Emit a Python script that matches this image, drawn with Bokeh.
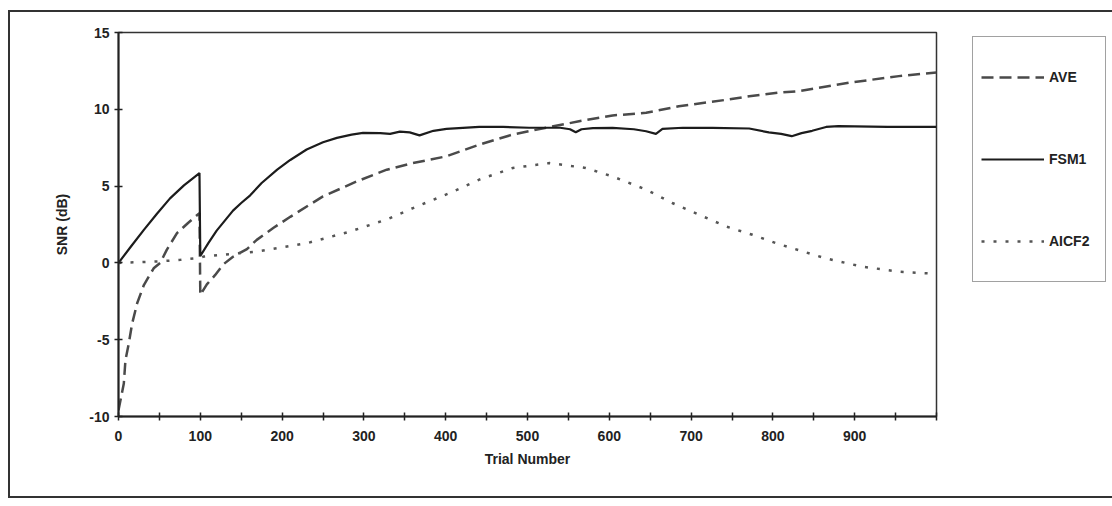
from bokeh.plotting import figure
from bokeh.layouts import row
from bokeh.models import Legend, LegendItem, FixedTicker, Range1d
from bokeh.embed import file_html
from bokeh.resources import INLINE

# SNR (dB) against trial number for the three estimators
ave_trial = [0, 6.5, 8.5, 12.6, 16.7, 22.8, 31, 43, 51, 59, 71.5, 85, 99,
             100, 108, 118, 128, 140, 157, 169, 190, 210, 250, 291, 328, 360,
             401, 441, 482, 523, 563, 604, 645, 685, 746, 771, 807, 832, 893,
             954, 1000]
ave_snr = [-9.6, -7.85, -6.33, -5.24, -3.94, -2.63, -1.44, -0.35, 0.0, 0.85,
           1.94, 2.6, 3.24,
           -2.09, -1.4, -0.8, -0.1, 0.4, 0.9, 1.5, 2.3, 3.0, 4.33, 5.3, 6.07,
           6.5, 6.94, 7.7, 8.36, 8.8, 9.22, 9.6, 9.77, 10.2, 10.64, 10.85,
           11.08, 11.18, 11.73, 12.16, 12.4]

fsm1_trial = [0, 15, 31, 47, 63, 80, 99,
              100, 110, 120, 130, 140, 150, 161, 175, 194, 210, 230, 250, 267,
              285, 299, 320, 332, 344, 356, 368, 385, 401, 441, 470, 502, 540,
              552, 559, 566, 580, 604, 630, 645, 657, 665, 690, 726, 771, 795,
              810, 823, 835, 848, 865, 880, 940, 1000]
fsm1_snr = [0, 1.05, 2.15, 3.2, 4.2, 5.05, 5.85,
            0.45, 1.3, 2.1, 2.75, 3.4, 3.9, 4.4, 5.2, 6.07, 6.7, 7.38, 7.85,
            8.14, 8.35, 8.47, 8.45, 8.4, 8.55, 8.5, 8.3, 8.6, 8.72, 8.86,
            8.85, 8.8, 8.8, 8.7, 8.5, 8.7, 8.78, 8.79, 8.7, 8.57, 8.4, 8.72,
            8.8, 8.79, 8.75, 8.5, 8.4, 8.25, 8.45, 8.6, 8.85, 8.9, 8.86, 8.86]

aicf2_trial = [0, 50, 76, 100, 104, 169, 230, 283, 329, 360, 405, 441, 482,
               527, 571, 604, 645, 677, 710, 743, 775, 804, 864, 909, 954,
               984, 1000]
aicf2_snr = [0, 0.1, 0.2, 0.33, 0.41, 0.74, 1.28, 2.04, 2.85, 3.57, 4.55,
             5.42, 6.18, 6.5, 6.18, 5.63, 4.77, 3.9, 3.13, 2.37, 1.83, 1.28,
             0.3, -0.24, -0.57, -0.67, -0.7]

series_names = ["AVE", "FSM1", "AICF2"]
series_x = [ave_trial, fsm1_trial, aicf2_trial]
series_y = [ave_snr, fsm1_snr, aicf2_snr]

x_ticks = list(range(0, 1001, 50))
x_tick_labels = {t: (str(t) if t % 100 == 0 and t < 1000 else "") for t in x_ticks}
y_ticks = [-10, -5, 0, 5, 10, 15]
y_tick_labels = {t: str(t) for t in y_ticks}

FONT = "Liberation Sans"
INK = "#222222"
RULE = "linear-gradient(#333333, #333333)"

# line styles shared by the chart and its key
styles = [
    dict(line_color="#4a4a4a", line_width=2.5, line_dash="12 6"),
    dict(line_color="#1c1c1c", line_width=2.2),
    dict(line_color="#555555", line_width=2.5, line_dash="3 9"),
]

p = figure(width=960, height=506, output_backend="svg", toolbar_location=None,
           x_range=Range1d(0, 1000), y_range=Range1d(-10, 15),
           min_border_left=118, min_border_right=24,
           min_border_top=32, min_border_bottom=90)
p.border_fill_color = None
p.background_fill_color = "white"
p.outline_line_color = "#333333"
p.outline_line_width = 1.5
p.xgrid.visible = False
p.ygrid.visible = False

for ax in (p.xaxis[0], p.yaxis[0]):
    ax.axis_line_color = INK
    ax.axis_line_width = 2
    ax.major_tick_line_color = INK
    ax.major_tick_line_width = 1.5
    ax.major_tick_in = 4
    ax.major_tick_out = 4
    ax.minor_tick_line_color = None
    ax.major_label_text_font = FONT
    ax.major_label_text_font_style = "bold"
    ax.major_label_text_font_size = "14px"
    ax.major_label_text_color = INK
    ax.axis_label_text_font = FONT
    ax.axis_label_text_font_style = "bold"
    ax.axis_label_text_font_size = "14px"
    ax.axis_label_text_color = INK

p.xaxis.ticker = FixedTicker(ticks=x_ticks)
p.xaxis.major_label_overrides = x_tick_labels
p.xaxis.major_label_standoff = 10
p.xaxis.axis_label = "Trial Number"
p.xaxis.axis_label_standoff = 7

p.yaxis.ticker = FixedTicker(ticks=y_ticks)
p.yaxis.major_label_overrides = y_tick_labels
p.yaxis.major_label_standoff = 5
p.yaxis.axis_label = "SNR (dB)"
p.yaxis.axis_label_standoff = 16

for xs, ys, st in zip(series_x, series_y, styles):
    p.line(xs, ys, **st)

# key panel to the right of the chart; its view window sits away from the
# data so only the legend shows there
k = figure(width=152, height=506, output_backend="svg", toolbar_location=None,
           x_range=Range1d(0, 1), y_range=Range1d(100, 101),
           x_axis_location=None, y_axis_location=None, min_border=0)
k.border_fill_color = None
k.background_fill_color = None
k.outline_line_color = None
k.grid.visible = False
key_lines = [k.line(xs, ys, **st) for xs, ys, st in zip(series_x, series_y, styles)]

legend = Legend(
    items=[LegendItem(label=n, renderers=[r])
           for n, r in zip(series_names, key_lines)],
    location=(12, 134), orientation="vertical",
    glyph_width=63, glyph_height=64, label_height=64, label_width=48,
    spacing=18, padding=8, margin=0, label_standoff=5,
    border_line_color="#444444", border_line_width=1.5,
    background_fill_color="white", background_fill_alpha=1,
    label_text_font=FONT, label_text_font_style="bold",
    label_text_font_size="14px", label_text_color=INK,
)
k.add_layout(legend, "center")

# outer frame around the whole chart, painted behind the transparent canvases
layout = row(p, k, spacing=0, styles={
    "background-color": "white",
    "background-image": ", ".join([RULE] * 3),
    "background-repeat": "no-repeat",
    "background-position": "8px 10px, 8px 10px, 8px 496px",
    "background-size": "2px 488px, 1104px 2px, 1104px 2px",
})

open("out.html", "w").write(file_html(layout, INLINE))
